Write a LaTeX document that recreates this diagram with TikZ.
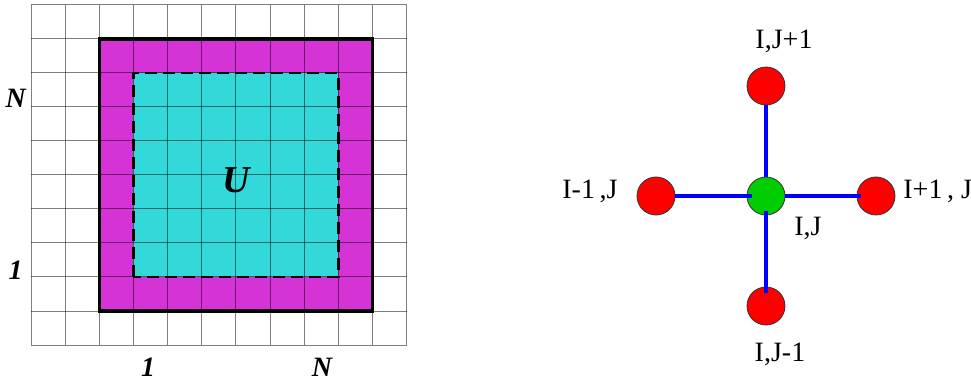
\documentclass[tikz,border=0pt]{standalone}
\usepackage{fontspec}
\setmainfont{Liberation Serif}
\usetikzlibrary{positioning}
\definecolor{bandmag}{RGB}{214,51,214}
\definecolor{innercyan}{RGB}{51,217,217}
\definecolor{ptred}{RGB}{255,0,0}
\definecolor{ptgreen}{RGB}{0,204,0}

\begin{document}
\begin{tikzpicture}[x=0.5pt, y=0.5pt,
    gridline/.style={draw=black, draw opacity=0.5, line width=0.5pt},
    idx/.style={font=\fontsize{14}{16}\selectfont\bfseries\itshape, inner sep=0pt},
    lbl/.style={font=\fontsize{14}{16}\selectfont, inner sep=0pt},
    stencil/.style={circle, draw=black!80, line width=0.4pt, minimum size=19pt, inner sep=0pt},
    link/.style={draw=blue, line width=2pt},
    node distance=55pt, on grid]
\useasboundingbox (0,0) rectangle (971,381);

% ========= 左图：网格与区域 U =========
\begin{scope}[shift={(31,36)}, x=17.08pt, y=17pt]
    % 填充区域
    \fill[bandmag] (2,1) rectangle (10,9);
    \fill[innercyan] (3,2) rectangle (9,8);

    % 网格线
    \foreach \i in {0,...,11} \draw[gridline] (\i,0) -- (\i,10);
    \foreach \j in {0,...,10} \draw[gridline] (0,\j) -- (11,\j);

    % 外边界实线 + 内边界虚线
    \draw[line width=1.7pt] (2,1) rectangle (10,9);
    \draw[line width=1.2pt, dash pattern=on 6pt off 3pt] (3,2) rectangle (9,8);

    % 下标标签
    \node[idx] (nLeft) at (-0.45,7.25) {N};
    \node[idx] (oneLeft) at (-0.45,2.2) {1};
    \node[idx] (oneBottom) at (3.43,-0.65) {1};
    \node[idx] (nBottom) at (8.52,-0.65) {N};

    % 区域标签
    \node[idx, font=\fontsize{19}{21}\selectfont\bfseries\itshape] (uLabel) at (6,4.85) {U};
\end{scope}

% ========= 右图：五点模板 =========
% 节点
\node[stencil, fill=ptgreen] (ij) at (766,185) {};
\node[stencil, fill=ptred, above=of ij] (jp) {};
\node[stencil, fill=ptred, below=of ij] (jm) {};
\node[stencil, fill=ptred, left=of ij] (im) {};
\node[stencil, fill=ptred, right=of ij] (ip) {};

% 连线
\draw[link] (jp) -- (ij);
\draw[link, shorten >=-2.5pt] (im) -- (ij);
\draw[link, shorten >=-2pt] (ij) -- (ip);
\draw[link, shorten <=-2pt, shorten >=-3pt] (ij) -- (jm);

% 节点标签
\node[lbl] (jpLabel) at ([shift={(9pt,22.5pt)}]jp.center) {I,J+1};
\node[lbl] (jmLabel) at ([shift={(7pt,-24pt)}]jm.center) {I,J-1};
\node[lbl] (imLabel) at ([shift={(-33pt,2.5pt)}]im.center) {I-1\,,J};
\node[lbl, anchor=west] (ipLabel) at ([shift={(13.5pt,2.5pt)}]ip.center) {I+1\,, J};
\node[lbl] (ijLabel) at ([shift={(21pt,-16pt)}]ij.center) {I,J};
\end{tikzpicture}
\end{document}
